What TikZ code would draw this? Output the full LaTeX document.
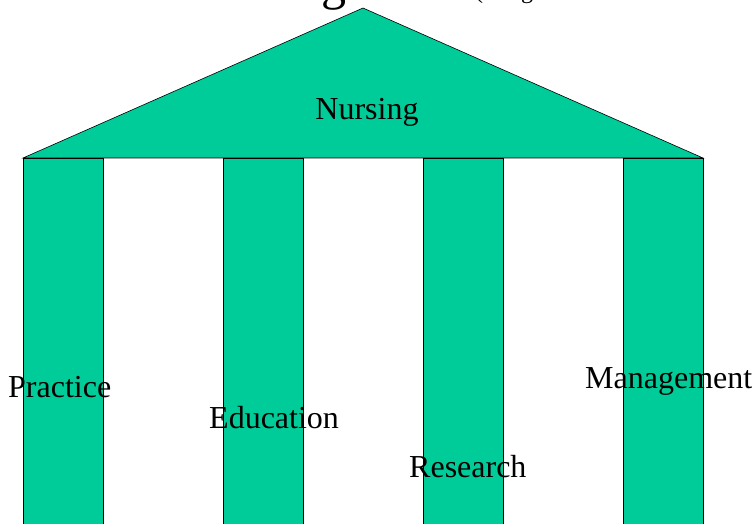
\documentclass[tikz,border=0pt]{standalone}
\usepackage{fontspec}
\setmainfont{Liberation Serif}
\definecolor{pillargreen}{RGB}{0,204,153}
\tikzset{
	pillar/.style={fill=pillargreen, draw=black, line width=0.6pt},
	pillarlabel/.style={inner sep=0pt, font=\fontsize{32}{38}\selectfont}
}

\begin{document}
\begin{tikzpicture}[x=1pt, y=-1pt]
			%%%%% START %%%%%
			
			\useasboundingbox (0, 0) rectangle (753, 524);
			
			% heading, mostly off the top edge
			\node[inner sep=0pt, anchor=base, font=\fontsize{50}{60}\selectfont] (headbig) at (334, 0) {g};
			\node[inner sep=0pt, anchor=base, font=\fontsize{24}{29}\selectfont] (headopen) at (479, -1) {(};
			\node[inner sep=0pt, anchor=base, font=\fontsize{24}{29}\selectfont] (headg) at (527, -1) {g};
			
			% roof
			\draw[pillar] (23, 158) -- (363, 8) -- (703, 158) -- cycle;
			
			% columns
			\draw[pillar] (23, 158) rectangle (103, 530);
			\draw[pillar] (223, 158) rectangle (303, 530);
			\draw[pillar] (423, 158) rectangle (503, 530);
			\draw[pillar] (623, 158) rectangle (703, 530);
			
			\node[pillarlabel, anchor=base] (nursing) at (367, 120) {Nursing};
			
			\node[pillarlabel, anchor=base west] (practice) at (8, 397) {Practice};
			\node[pillarlabel, anchor=base west] (education) at (209, 428) {Education};
			\node[pillarlabel, anchor=base west] (research) at (409, 477) {Research};
			\node[pillarlabel, anchor=base west] (management) at (585, 388) {Management};
			
			%%%%% END %%%%%
		\end{tikzpicture}
\end{document}
